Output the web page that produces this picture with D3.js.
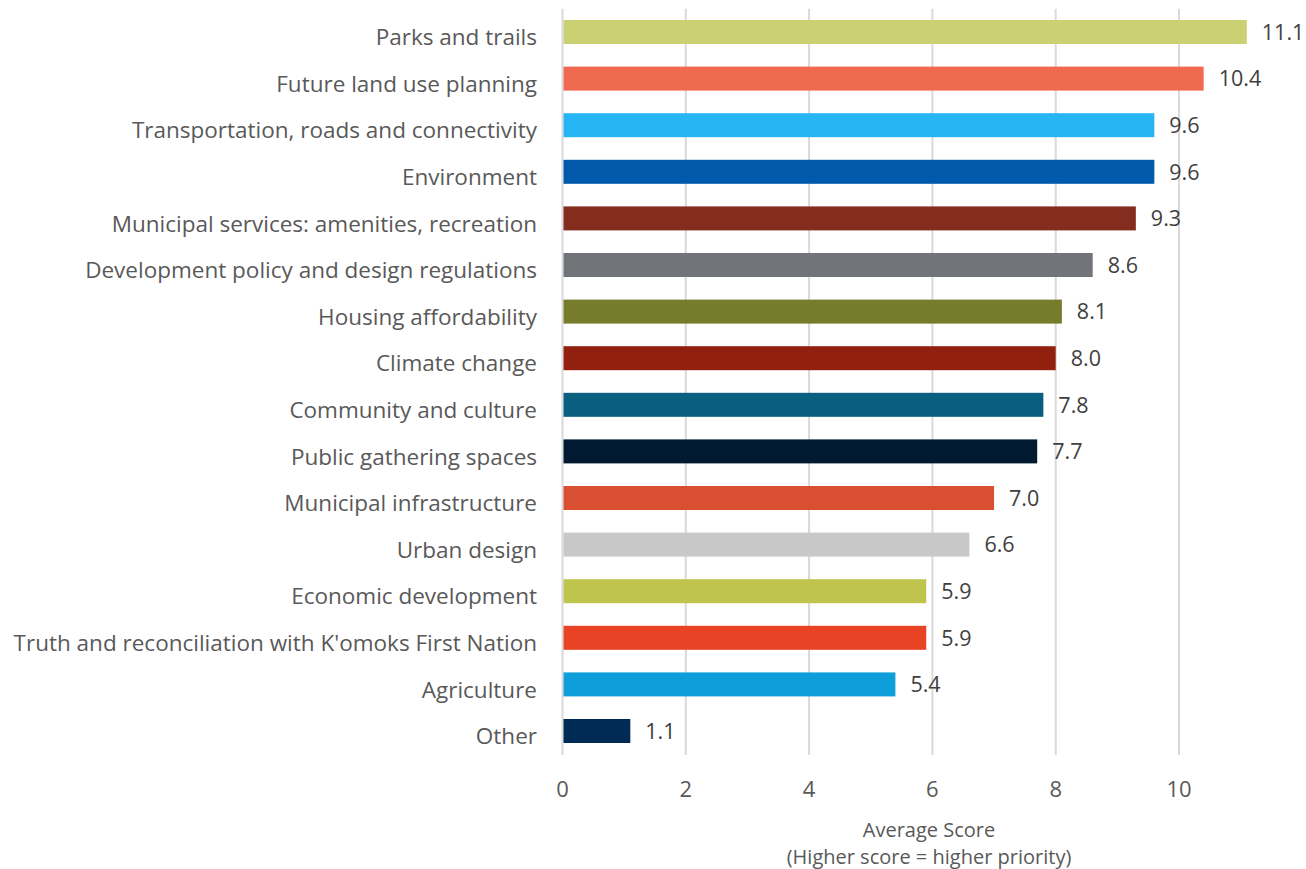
<!DOCTYPE html>
<html>
<head>
<meta charset="utf-8">
<script src="https://cdn.jsdelivr.net/npm/d3@7"></script>
<style>
  body { margin: 0; background: #fff; }
  text { font-family: "Open Sans", "Noto Sans", sans-serif; }
</style>
</head>
<body>
<div id="chart"></div>
<script>
const categories = [
    "Parks and trails",
    "Future land use planning",
    "Transportation, roads and connectivity",
    "Environment",
    "Municipal services: amenities, recreation",
    "Development policy and design regulations",
    "Housing affordability",
    "Climate change",
    "Community and culture",
    "Public gathering spaces",
    "Municipal infrastructure",
    "Urban design",
    "Economic development",
    "Truth and reconciliation with K'omoks First Nation",
    "Agriculture",
    "Other"
];
const scores = [11.1, 10.4, 9.6, 9.6, 9.3, 8.6, 8.1, 8.0, 7.8, 7.7, 7.0, 6.6, 5.9, 5.9, 5.4, 1.1];
const barColors = [
    "#cbd072", "#ef6a50", "#26b6f5", "#0059ab", "#842c1d", "#717478",
    "#777b2c", "#92200f", "#0a5e80", "#011a31", "#d94f31", "#c8c8c9",
    "#bfc54c", "#e84324", "#0e9ed9", "#002b55"
];
const xTicks = [0, 2, 4, 6, 8, 10];
const axisTitle = ["Average Score", "(Higher score = higher priority)"];

const W = 1306, H = 869;
const svg = d3.select("#chart").append("svg")
    .attr("width", W)
    .attr("height", H);

const x = d3.scaleLinear()
    .domain([0, 12])
    .range([562.5, 562.5 + 12 * 61.65]);

const y = d3.scaleBand()
    .domain(categories)
    .range([8.7, 754.3])
    .paddingInner(0.485)
    .paddingOuter(0.2425);

// gridlines
svg.append("g")
    .selectAll("line")
    .data(xTicks)
    .enter().append("line")
    .attr("x1", d => x(d))
    .attr("x2", d => x(d))
    .attr("y1", 8.7)
    .attr("y2", 755)
    .style("stroke", "#d9d9d9")
    .style("stroke-width", "2px");

// bars
svg.append("g")
    .selectAll("rect")
    .data(scores)
    .enter().append("rect")
    .attr("x", x(0) + 1)
    .attr("y", (d, i) => y(categories[i]))
    .attr("width", d => x(d) - x(0) - 1)
    .attr("height", y.bandwidth())
    .style("fill", (d, i) => barColors[i]);

// value labels
svg.append("g")
    .selectAll("text")
    .data(scores)
    .enter().append("text")
    .attr("x", d => x(d) + 15)
    .attr("y", (d, i) => y(categories[i]) + y.bandwidth() / 2)
    .attr("dy", "0.36em")
    .style("font-size", "21.5px")
    .style("fill", "#404040")
    .text(d => d.toFixed(1));

// category labels
svg.append("g")
    .selectAll("text")
    .data(categories)
    .enter().append("text")
    .attr("x", 537)
    .attr("y", d => y(d) + y.bandwidth() / 2 + 5)
    .attr("dy", "0.36em")
    .attr("text-anchor", "end")
    .style("font-size", "22.5px")
    .style("fill", "#595959")
    .text(d => d);

// x tick labels
svg.append("g")
    .selectAll("text")
    .data(xTicks)
    .enter().append("text")
    .attr("x", d => x(d))
    .attr("y", 789)
    .attr("dy", "0.36em")
    .attr("text-anchor", "middle")
    .style("font-size", "22px")
    .style("fill", "#595959")
    .text(d => d);

// axis title
svg.append("g")
    .selectAll("text")
    .data(axisTitle)
    .enter().append("text")
    .attr("x", 929)
    .attr("y", (d, i) => 830 + i * 27)
    .attr("dy", "0.36em")
    .attr("text-anchor", "middle")
    .style("font-size", "20px")
    .style("fill", "#595959")
    .text(d => d);
</script>
</body>
</html>
